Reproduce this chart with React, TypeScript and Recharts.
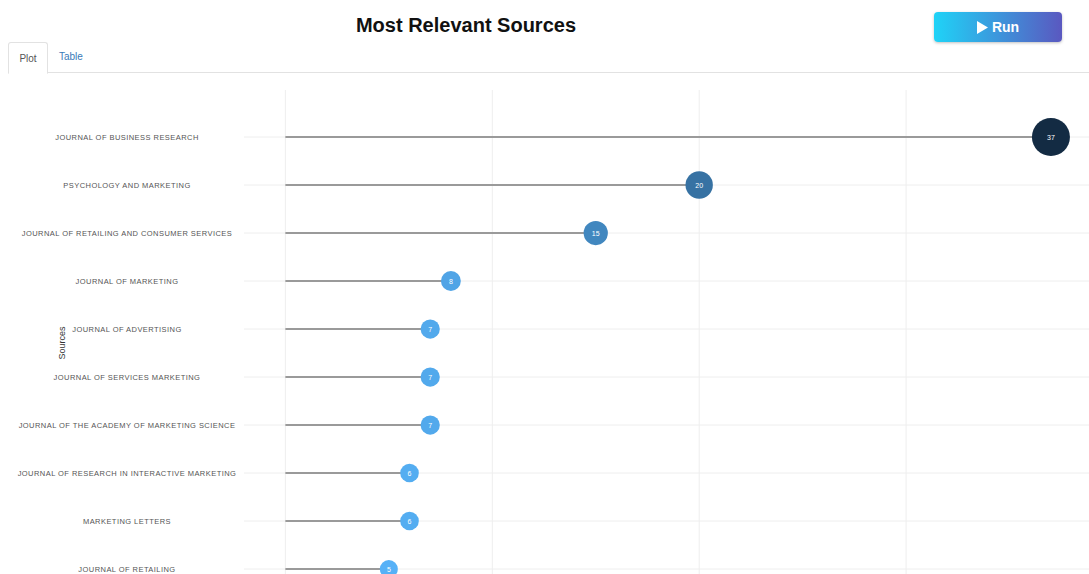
import React from 'react';
import { BarChart, Bar, XAxis, YAxis, Cell, ReferenceLine } from 'recharts';

const sources = [
  'JOURNAL OF BUSINESS RESEARCH',
  'PSYCHOLOGY AND MARKETING',
  'JOURNAL OF RETAILING AND CONSUMER SERVICES',
  'JOURNAL OF MARKETING',
  'JOURNAL OF ADVERTISING',
  'JOURNAL OF SERVICES MARKETING',
  'JOURNAL OF THE ACADEMY OF MARKETING SCIENCE',
  'JOURNAL OF RESEARCH IN INTERACTIVE MARKETING',
  'MARKETING LETTERS',
  'JOURNAL OF RETAILING',
];
const articles = [37, 20, 15, 8, 7, 7, 7, 6, 6, 5];
const xTicks = [0, 10, 20, 30, 40];

const data = sources.map((s, i) => ({ source: s, articles: articles[i] }));

const minV = Math.min(...articles);
const maxV = Math.max(...articles);

// light blue -> dark navy, like the reversed ggplot gradient
function dotColor(v: number) {
  const t = (v - minV) / (maxV - minV);
  const lo = [86, 177, 247];
  const hi = [19, 43, 67];
  const c = lo.map((l, k) => Math.round(l + (hi[k] - l) * t));
  return `rgb(${c[0]},${c[1]},${c[2]})`;
}

function dotRadius(v: number) {
  return 9 + ((v - minV) / (maxV - minV)) * 10;
}

const Lollipop = (props: any) => {
  const { x, y, width, height, payload, fill } = props;
  const cy = y + height / 2;
  const cx = x + width;
  const r = dotRadius(payload.articles);
  return (
    <g>
      <line x1={x} y1={cy} x2={cx} y2={cy} stroke="#9a9a9a" strokeWidth={2} />
      <circle cx={cx} cy={cy} r={r} fill={fill} />
      <text x={cx} y={cy + 2.5} textAnchor="middle" fill="#fff" fontSize={7}>
        {payload.articles}
      </text>
    </g>
  );
};

const Empty = () => <g />;

const SourceTick = (props: any) => {
  const { y, payload } = props;
  return (
    <text x={127} y={y + 3} textAnchor="middle" fill="#555" fontSize={7.5} letterSpacing={0.45}>
      {payload.value}
    </text>
  );
};

const chartProps = {
  width: 1113,
  height: 503,
  data,
  layout: 'vertical' as const,
  margin: { top: 0, right: 0, bottom: 0, left: 0 },
  barCategoryGap: 0,
};

export default function App() {
  return (
    <div
      style={{
        position: 'absolute',
        left: 0,
        top: 0,
        width: 1089,
        height: 574,
        overflow: 'hidden',
        background: '#fff',
        fontFamily: 'Arial, "Liberation Sans", sans-serif',
      }}
    >
      <div
        style={{
          position: 'absolute',
          left: 0,
          width: 932,
          top: 14,
          textAlign: 'center',
          fontSize: 20,
          fontWeight: 'bold',
          color: '#111',
        }}
      >
        Most Relevant Sources
      </div>
      <div
        style={{
          position: 'absolute',
          left: 934,
          top: 12,
          width: 128,
          height: 30,
          borderRadius: 4,
          background: 'linear-gradient(90deg, #1fd3f7, #5a58c0)',
          boxShadow: '0 1px 3px rgba(0,0,0,0.25)',
          color: '#fff',
          fontWeight: 'bold',
          fontSize: 14,
          display: 'flex',
          alignItems: 'center',
          justifyContent: 'center',
          gap: 4,
        }}
      >
        <svg width={11} height={13} viewBox="0 0 11 13">
          <path d="M0 0 L11 6.5 L0 13 Z" fill="#fff" />
        </svg>
        Run
      </div>
      <div
        style={{
          position: 'absolute',
          left: 8,
          right: 0,
          top: 72,
          borderTop: '1px solid #e2e2e2',
        }}
      />
      <div
        style={{
          position: 'absolute',
          left: 8,
          top: 42,
          width: 38,
          height: 30,
          border: '1px solid #e2e2e2',
          borderBottom: '1px solid #fff',
          borderRadius: '3px 3px 0 0',
          background: '#fff',
          fontSize: 10,
          color: '#555',
          display: 'flex',
          alignItems: 'center',
          justifyContent: 'center',
        }}
      >
        Plot
      </div>
      <div style={{ position: 'absolute', left: 59, top: 51, fontSize: 10, color: '#3a7ab8' }}>Table</div>
      <div
        style={{
          position: 'absolute',
          left: 62,
          top: 343,
          transform: 'translate(-50%, -50%) rotate(-90deg)',
          fontSize: 9,
          color: '#333',
        }}
      >
        Sources
      </div>
      {/* grid layer underneath */}
      <div style={{ position: 'absolute', left: 0, top: 90 }}>
        <BarChart {...chartProps}>
          <XAxis type="number" domain={[-2, 40]} ticks={xTicks} hide />
          <YAxis
            type="category"
            dataKey="source"
            width={244}
            axisLine={false}
            tickLine={false}
            tick={<SourceTick />}
            padding={{ top: 23, bottom: 0 }}
          />
          <Bar dataKey="articles" shape={<Empty />} isAnimationActive={false} />
          {xTicks.map((t) => (
            <ReferenceLine key={'x' + t} x={t} stroke="#eeeeee" strokeWidth={1} ifOverflow="visible" />
          ))}
          {sources.map((s) => (
            <ReferenceLine key={'y' + s} y={s} stroke="#eeeeee" strokeWidth={1} ifOverflow="visible" />
          ))}
        </BarChart>
      </div>
      {/* lollipops on top */}
      <div style={{ position: 'absolute', left: 0, top: 90 }}>
        <BarChart {...chartProps}>
          <XAxis type="number" domain={[-2, 40]} ticks={xTicks} hide />
          <YAxis
            type="category"
            dataKey="source"
            width={244}
            axisLine={false}
            tickLine={false}
            tick={false}
            padding={{ top: 23, bottom: 0 }}
          />
          <Bar dataKey="articles" shape={<Lollipop />} isAnimationActive={false}>
            {data.map((d, i) => (
              <Cell key={i} fill={dotColor(d.articles)} />
            ))}
          </Bar>
        </BarChart>
      </div>
    </div>
  );
}
